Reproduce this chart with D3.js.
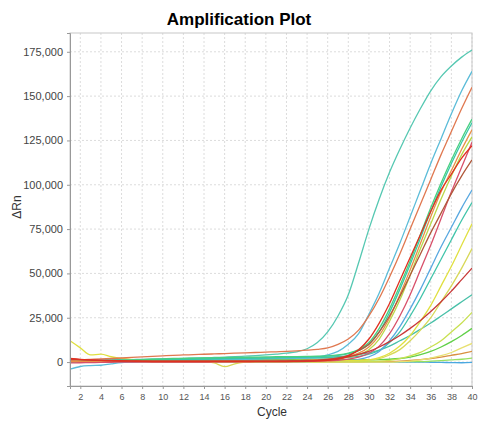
<!DOCTYPE html>
<html><head><meta charset="utf-8">
<script src="https://cdn.jsdelivr.net/npm/d3@7"></script>
<style>body{margin:0;background:#fff} text{font-family:Arial,"Liberation Sans",sans-serif}</style>
</head><body><svg id="c" width="480" height="421"></svg>
<script>
// Cycles (x categories)
const cycles=[1,2,3,4,5,6,7,8,9,10,11,12,13,14,15,16,17,18,19,20,21,22,23,24,25,26,27,28,29,30,31,32,33,34,35,36,37,38,39,40];
const xTicks=[2,4,6,8,10,12,14,16,18,20,22,24,26,28,30,32,34,36,38,40];
const yTicks=[0,25000,50000,75000,100000,125000,150000,175000];
const unit=1000; // series values below are ΔRn in thousands

const sA=[0.5,0.5,0.6,0.7,0.8,1.0,1.1,1.3,1.5,1.7, 1.9,2.0,2.2,2.4,2.6,2.8,3.0,3.3,3.6,4.0, 4.5,5.0,5.8,7.5,11,17,26,38,56,75, 92,107,120,132,143,153,161,167,172,176];
const sB=[-4,-2.5,-2,-1.8,-1,-0.3,0,0.3,0.5,0.7, 0.8,1.0,1.1,1.2,1.3,1.4,1.5,1.6,1.7,1.8, 1.9,2.0,2.2,2.4,2.8,4,6,10,16,27, 39,53,67,82,97,112,126,140,153,164];
const sC=[1.0,1.2,1.5,1.8,2.0,2.3,2.6,2.9,3.2,3.5, 3.8,4.0,4.2,4.4,4.6,4.8,5.0,5.2,5.4,5.6, 5.8,6.0,6.3,6.7,7.2,8,10,13,18,26, 36,48,61,75,89,103,117,130,143,155];
const sD=[0,0.2,0.4,0.6,0.8,1.0,1.2,1.4,1.6,1.8, 2.0,2.1,2.2,2.3,2.4,2.5,2.6,2.7,2.8,2.9, 3.0,3.0,3.1,3.2,3.3,3.5,4,5,7,11, 19,30,43,57,72,87,101,114,126,137];
const sE=[0.5,0.5,0.6,0.7,0.8,0.9,1.0,1.1,1.2,1.3, 1.4,1.5,1.6,1.7,1.8,1.9,2.0,2.1,2.2,2.3, 2.4,2.5,2.6,2.8,3.0,3.3,3.8,4.8,6.5,10, 17,28,41,55,70,85,99,112,124,135];
const sF=[0.3,0.3,0.3,0.4,0.4,0.4,0.5,0.5,0.5,0.5, 0.6,0.6,0.6,0.7,0.7,0.7,0.8,0.8,0.8,0.9, 0.9,1.0,1.0,1.1,1.3,1.6,2.2,3.2,5,8.5, 15,25,38,52,67,82,96,108,120,131];
const sG=[0.8,0.7,0.7,0.6,0.6,0.6,0.5,0.5,0.5,0.5, 0.5,0.5,0.6,0.6,0.6,0.6,0.7,0.7,0.7,0.7, 0.8,0.8,0.9,1.0,1.1,1.4,1.9,2.8,4.2,7, 13,23,35,49,64,78,92,105,117,127];
const sH=[2.0,1.5,1.2,1.0,0.8,0.6,0.5,0.4,0.3,0.3, 0.3,0.3,0.3,0.3,0.3,0.3,0.3,0.3,0.3,0.3, 0.3,0.3,0.4,0.5,0.7,1.0,1.6,3.5,7,13, 22,33,46,59,72,85,97,106,115,122];
const sI=[-0.5,-0.4,-0.3,-0.2,-0.1,0,0,0,0,0, 0,0,0,0,0.1,0.1,0.1,0.1,0.2,0.2, 0.2,0.2,0.3,0.4,0.5,0.7,1.0,1.6,2.8,5, 9,16,26,38,52,66,81,96,110,124];
const sJ=[1.5,1.3,1.1,1.0,0.9,0.8,0.7,0.7,0.6,0.6, 0.6,0.6,0.6,0.6,0.6,0.6,0.6,0.6,0.6,0.6, 0.7,0.7,0.8,0.9,1.1,1.5,2.3,3.8,6.5,10, 17,26,37,49,61,73,84,95,105,114];
const sK=[0.2,0.2,0.2,0.2,0.2,0.2,0.2,0.2,0.2,0.2, 0.2,0.2,0.2,0.2,0.2,0.3,0.3,0.3,0.3,0.3, 0.3,0.3,0.3,0.3,0.4,0.4,0.5,0.8,1.5,3, 6,12,20,30,41,53,65,76,87,97];
const sL=[0.6,0.7,0.8,0.9,1.0,1.1,1.2,1.3,1.4,1.5, 1.6,1.7,1.8,1.9,2.0,2.0,2.1,2.1,2.2,2.2, 2.2,2.2,2.3,2.3,2.3,2.3,2.4,2.6,3.2,4.5, 6.5,11,17,26,36,47,58,69,80,90];
const sM=[12,8,4,4.5,3,2,1.5,1.0,0.8,0.6, 0.5,0.5,0.5,0.5,0.5,0.5,0.5,0.5,0.5,0.5, 0.5,0.5,0.5,0.5,0.5,0.6,0.7,0.8,1.0,1.2, 2.5,5,9,15,23,32,43,54,66,78];
const sN=[0.5,0.5,0.5,0.5,0.5,0.5,0.5,0.5,0.5,0.5, 0.5,0.5,0.5,0.3,-0.5,-2.6,-1,0,0.2,0.3, 0.3,0.3,0.3,0.3,0.3,0.4,0.5,0.6,0.8,1.2, 2,4,7,12,18,25,34,43,53,64];
const sO=[1.8,1.4,1.1,0.9,0.7,0.6,0.5,0.4,0.4,0.4, 0.4,0.4,0.4,0.4,0.4,0.4,0.4,0.4,0.4,0.4, 0.4,0.5,0.5,0.6,0.8,1.3,2,3,4.3,6, 8.5,11.5,15,19,23.5,28.5,34,40,46.5,53];
const sP=[0.8,0.9,1.0,1.1,1.2,1.3,1.4,1.5,1.6,1.7, 1.8,1.9,2.0,2.0,2.1,2.1,2.2,2.2,2.3,2.3, 2.4,2.4,2.5,2.5,2.6,2.7,3.0,3.5,4.2,5.2, 6.8,9,12,15,18.5,22,26,30,34,38];
const sR=[0.3,0.3,0.3,0.3,0.3,0.3,0.3,0.3,0.3,0.3, 0.3,0.3,0.3,0.3,0.3,0.3,0.3,0.3,0.3,0.3, 0.3,0.3,0.3,0.3,0.3,0.3,0.3,0.3,0.3,0.4, 0.5,1,2,3.5,5.5,8.5,12,17,22,28];
const sS=[0.4,0.5,0.6,0.7,0.8,0.9,1.0,1.0,1.1,1.1, 1.2,1.2,1.2,1.3,1.3,1.3,1.3,1.3,1.3,1.3, 1.3,1.3,1.3,1.3,1.3,1.3,1.3,1.3,1.3,1.3, 1.4,1.6,2.0,2.8,4.2,6,8.5,11.5,15,19];
const sT=[0,0,0,0,0,0,0,0,0,0, 0,0,0,0,0,0,0,0,0,0, 0,0,0,0,0,0,0,0,0,0, 0,0,0.2,0.5,1.2,2.2,3.6,5.4,8,10.5];
const sU=[0.1,0.1,0.1,0.1,0.1,0.1,0.1,0.1,0.1,0.1, 0.1,0.1,0.1,0.1,0.1,0.1,0.1,0.1,0.1,0.1, 0.1,0.1,0.1,0.1,0.1,0.1,0.1,0.1,0.1,0.2, 0.2,0.3,0.5,0.9,1.4,2,2.8,3.8,4.8,6];
const sV=[0.2,0.2,0.2,0.2,0.2,0.2,0.2,0.2,0.2,0.2, 0.2,0.2,0.2,0.2,0.2,0.2,0.2,0.2,0.2,0.2, 0.2,0.2,0.2,0.2,0.2,0.2,0.2,0.2,0.2,0.2, 0.2,0.2,0.2,0.3,0.3,0.5,0.8,1.2,1.6,2.2];
const sW=[-0.2,-0.2,-0.2,-0.2,-0.1,-0.1,-0.1,0,0,0, 0,0,0,0,0,0,0,0,0,0, 0,0,0,0,0,0,0,0,0,0, 0,0,0,0,0,-0.1,-0.2,-0.3,-0.4,-0.2];

const seriesList=[sW,sV,sU,sT,sS,sR,sP,sL,sK,sN,sM,sB,sA,sE,sD,sG,sF,sI,sJ,sC,sO,sH];
const seriesColors=["#4aa8e0","#98e060","#d89040","#e8e070","#60d048","#c8e050","#48c0a8","#40c4aa","#58a8e0","#d8d858","#e0e040","#5bbcd8","#56c8b2","#38c8a8","#48d080","#b8d848","#e89048","#d8506a","#b0583a","#e07850","#c83838","#e03020"];

const svg=d3.select("#c");
const W=480,H=421;
const m={l:70,r:8,t:33,b:35};
const x=d3.scaleLinear().domain([1,40]).range([m.l,W-m.r]);
const y=d3.scaleLinear().domain([-13500,185600]).range([H-m.b,m.t]);

// grid
const g=svg.append("g");
g.selectAll("line.v").data(xTicks).join("line")
 .attr("x1",d=>x(d)).attr("x2",d=>x(d)).attr("y1",m.t).attr("y2",H-m.b)
 .attr("stroke","#dcdcdc").attr("stroke-dasharray","2,2").attr("stroke-width",1);
g.selectAll("line.h").data(yTicks).join("line")
 .attr("x1",m.l).attr("x2",W-m.r).attr("y1",d=>y(d)).attr("y2",d=>y(d))
 .attr("stroke","#dcdcdc").attr("stroke-dasharray","2,2").attr("stroke-width",1);

// frame
svg.append("rect").attr("x",m.l).attr("y",m.t).attr("width",W-m.r-m.l).attr("height",H-m.b-m.t)
 .attr("fill","none").attr("stroke","#c8c8c8");

// lines
const line=d3.line().x((d,i)=>x(cycles[i])).y(d=>y(d*unit)).curve(d3.curveMonotoneX);
const clip=svg.append("clipPath").attr("id","clp").append("rect").attr("x",m.l).attr("y",m.t).attr("width",W-m.r-m.l).attr("height",H-m.b-m.t);
svg.append("g").attr("clip-path","url(#clp)").selectAll("path").data(seriesList).join("path")
 .attr("d",line).attr("fill","none").attr("stroke",(d,i)=>seriesColors[i]).attr("stroke-width",1.3);

// axes
const fmt=d3.format(",");
const ya=svg.append("g").attr("transform",`translate(${m.l},0)`)
 .call(d3.axisLeft(y).tickValues(yTicks).tickFormat(fmt).tickSize(3).tickPadding(4));
ya.select(".domain").attr("stroke","#999");
ya.selectAll(".tick line").attr("stroke","#999");
ya.selectAll("text").attr("font-size",11).attr("fill","#444").style("font-family","Arial, 'Liberation Sans', sans-serif");
const xa=svg.append("g").attr("transform",`translate(0,${H-m.b})`)
 .call(d3.axisBottom(x).tickValues(xTicks).tickSize(3).tickPadding(5));
xa.select(".domain").attr("stroke","#999");
xa.selectAll(".tick line").attr("stroke","#999");
xa.selectAll("text").attr("font-size",9).attr("fill","#555").style("font-family","Arial, 'Liberation Sans', sans-serif");

// titles
svg.append("text").attr("x",239).attr("y",25).attr("text-anchor","middle")
 .attr("font-size",17).attr("font-weight","bold").attr("fill","#000").text("Amplification Plot");
svg.append("text").attr("transform","translate(21,207) rotate(-90)").attr("text-anchor","middle")
 .attr("font-size",12).attr("fill","#333").text("ΔRn");
svg.append("text").attr("x",272).attr("y",416).attr("text-anchor","middle")
 .attr("font-size",12).attr("fill","#333").text("Cycle");
</script></body></html>
